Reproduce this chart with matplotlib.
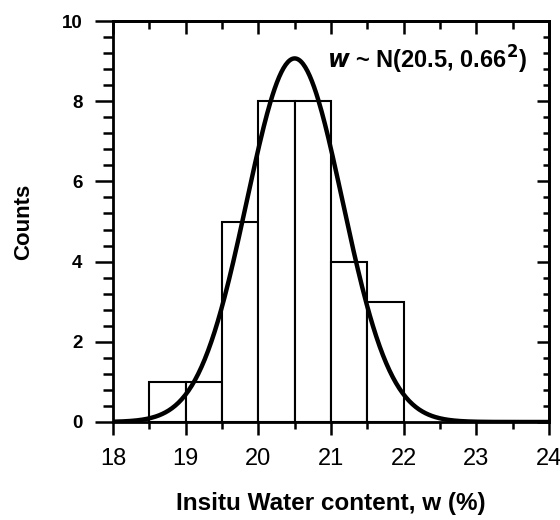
import numpy as np
import matplotlib
matplotlib.use("Agg")
import matplotlib.pyplot as plt
from matplotlib.ticker import MultipleLocator

# histogram data
bin_edges = [18.5, 19.0, 19.5, 20.0, 20.5, 21.0, 21.5, 22.0]
counts = [1, 1, 5, 8, 8, 4, 3]
mu, sigma = 20.5, 0.66
bin_width = 0.5

plt.rcParams['font.family'] = ['Liberation Sans', 'DejaVu Sans']

fig = plt.figure(figsize=(5.6, 5.2), dpi=100)
ax = fig.add_axes([113 / 560, 1 - 422 / 520, 436 / 560, 401 / 520])

ax.bar(bin_edges[:-1], counts, width=np.diff(bin_edges), align='edge',
       facecolor='white', edgecolor='black', linewidth=1.5, zorder=2)

# fitted normal curve scaled to counts
xs = np.linspace(18, 24, 400)
n = sum(counts)
ys = n * bin_width / (sigma * np.sqrt(2 * np.pi)) * np.exp(-0.5 * ((xs - mu) / sigma) ** 2)
ax.plot(xs, ys, color='black', linewidth=3.2, zorder=3)

ax.set_xlim(18, 24)
ax.set_ylim(0, 10)


def set_locators(axis_obj, major, minor):
    axis_obj.set_major_locator(MultipleLocator(major))
    axis_obj.set_minor_locator(MultipleLocator(minor))


set_locators(ax.xaxis, 1, 0.5)
set_locators(ax.yaxis, 2, 0.4)
ax.tick_params(which='both', direction='out', width=1.8)
ax.tick_params(axis='y', which='major', length=13, pad=9, labelsize=13.5)
ax.tick_params(axis='y', which='minor', length=7.5)
ax.tick_params(axis='x', which='major', length=9.5, pad=9, labelsize=17)
ax.tick_params(axis='x', which='minor', length=5)
for lbl in ax.get_yticklabels():
    lbl.set_fontweight('bold')

# inward ticks on the top and right sides
top = ax.secondary_xaxis('top')
set_locators(top.xaxis, 1, 0.5)
top.tick_params(which='both', direction='in', width=1.8, labeltop=False)
top.tick_params(which='major', length=9.5)
top.tick_params(which='minor', length=5.5)
right = ax.secondary_yaxis('right')
set_locators(right.yaxis, 2, 0.4)
right.tick_params(which='both', direction='in', width=1.8, labelright=False)
right.tick_params(which='major', length=9)
right.tick_params(which='minor', length=4.5)

for a in (ax, top, right):
    for s in a.spines.values():
        s.set_linewidth(2)

ax.set_xlabel('Insitu Water content, w (%)', fontsize=17.5, fontweight='bold', labelpad=16)
ax.set_ylabel('Counts', fontsize=16, fontweight='bold', labelpad=20)

ax.text(20.95, 9.03, r'$\mathbfit{w}$' + ' ~ N(20.5, 0.66$^\\mathbf{2}$)', fontsize=17,
        fontweight='bold', va='center', ha='left')

fig.savefig('out.png', dpi=100)
